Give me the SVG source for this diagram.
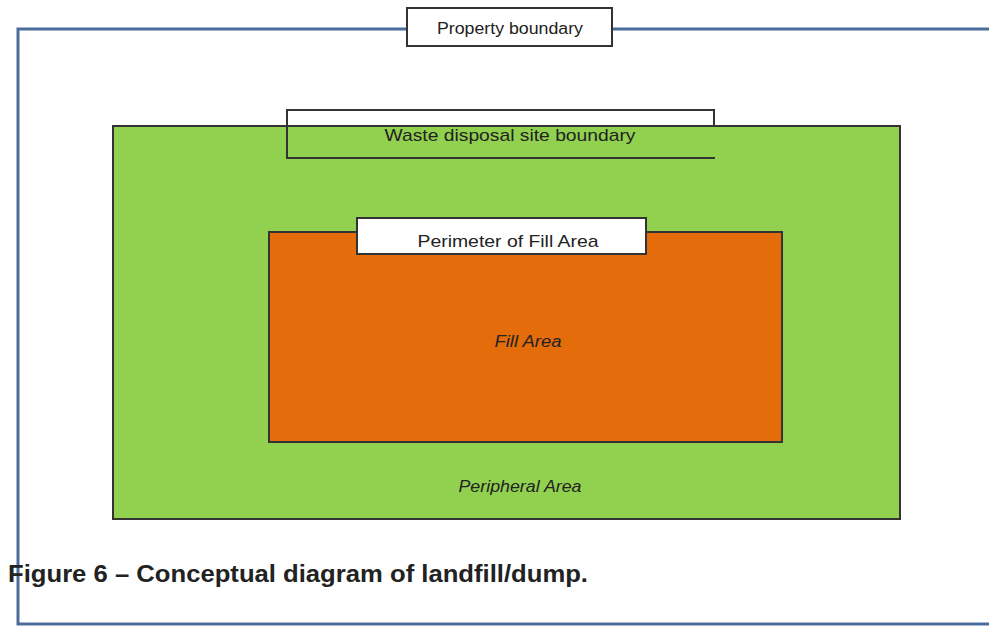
<svg xmlns="http://www.w3.org/2000/svg" width="989" height="626" viewBox="0 0 989 626">
<style>
.lbl{font-family:"Liberation Sans",Arial,sans-serif;fill:#222}
.box{fill:#fff;stroke:#333;stroke-width:2}
.dark{stroke:#333;stroke-width:2}
</style>
<rect x="0" y="0" width="989" height="626" fill="#fff"/>
<g id="property">
  <path d="M1000,29 H18 V624 H1000" fill="none" stroke="#4a6c9b" stroke-width="3"/>
  <rect class="box" x="407" y="8" width="205" height="38"/>
  <text class="lbl" x="510" y="34" font-size="16" text-anchor="middle" textLength="146" lengthAdjust="spacingAndGlyphs">Property boundary</text>
</g>
<g id="site">
  <rect x="287" y="110" width="427" height="16" fill="#fff"/>
  <rect x="113" y="126" width="787" height="393" fill="#92d050" class="dark"/>
  <path d="M714,126 V110 H287 V158 H715" fill="none" class="dark"/>
  <text class="lbl" x="510" y="141" font-size="17" text-anchor="middle" textLength="251" lengthAdjust="spacingAndGlyphs">Waste disposal site boundary</text>
  <text class="lbl" x="520" y="492" font-size="16" font-style="italic" text-anchor="middle" textLength="123" lengthAdjust="spacingAndGlyphs">Peripheral Area</text>
</g>
<g id="fill">
  <rect x="269" y="232" width="513" height="210" fill="#e46c0a" class="dark"/>
  <text class="lbl" x="528" y="347" font-size="16" font-style="italic" text-anchor="middle" textLength="67" lengthAdjust="spacingAndGlyphs">Fill Area</text>
</g>
<g id="perimeter">
  <rect class="box" x="357" y="218" width="289" height="36"/>
  <text class="lbl" x="508" y="247" font-size="17" text-anchor="middle" textLength="181" lengthAdjust="spacingAndGlyphs">Perimeter of Fill Area</text>
</g>
<g id="caption">
  <text class="lbl" x="8" y="582" font-size="24" font-weight="bold" textLength="580" lengthAdjust="spacingAndGlyphs">Figure 6 – Conceptual diagram of landfill/dump.</text>
</g>
</svg>
